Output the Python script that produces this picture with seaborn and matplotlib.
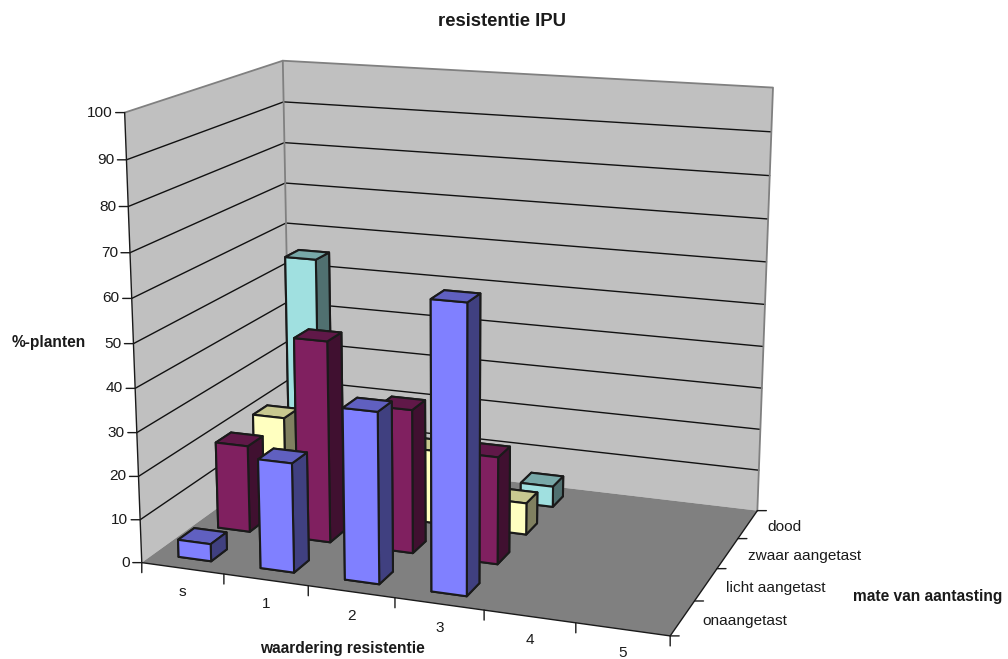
import numpy as np, pandas as pd, matplotlib
matplotlib.use('Agg')
import matplotlib.pyplot as plt
import seaborn as sns
from mpl_toolkits.mplot3d import proj3d
from mpl_toolkits.mplot3d.art3d import Poly3DCollection

categories = ['s', '1', '2', '3', '4', '5']
series = ['onaangetast', 'licht aangetast', 'zwaar aangetast', 'dood']
onaangetast = [4, 25, 38.7, 64.2, 0, 0]
licht = [20.5, 47, 33.3, 24.7, 0, 0]
zwaar = [21.3, 0, 17.5, 7.5, 0, 0]
dood = [55, 0, 10, 5, 0, 0]
z_ticks = list(range(0, 101, 10))
title = 'resistentie IPU'
x_title = 'waardering resistentie'
y_title = 'mate van aantasting'
z_title = '%-planten'

df = pd.DataFrame({'categorie': categories * 4,
                   'reeks': [s for s in series for _ in categories],
                   'waarde': onaangetast + licht + zwaar + dood})

sns.set_theme(style='white')
plt.rcParams['font.family'] = ['Liberation Sans', 'DejaVu Sans']
W_, H_ = 1008, 659
fig = plt.figure(figsize=(W_/100, H_/100), dpi=100, facecolor='white')
s_, cx, cy = 4148.90, 459.69, 335.63
w = s_*0.185
ax = fig.add_axes([(cx-w*0.095/0.185)/W_, (cy-w*0.095/0.185)/H_, w/W_, w/H_], projection='3d')
ax.set_xlim(0, 6); ax.set_ylim(0, 4); ax.set_zlim(0, 100)
ax.view_init(14.927, -70.040, -0.046)
ax.set_proj_type('persp', focal_length=0.5408)
ax.set_box_aspect((1, 0.6666, 0.8348))
ax.set_axis_off()
ax.patch.set_alpha(0)
ax.computed_zorder = False

# walls and floor
xm, ym, zm = 6, 4, 100
ax.add_collection3d(Poly3DCollection([[(0,0,0),(0,ym,0),(0,ym,zm),(0,0,zm)]], facecolor='#C0C0C0', edgecolor='none', zorder=1))
ax.add_collection3d(Poly3DCollection([[(0,ym,0),(xm,ym,0),(xm,ym,zm),(0,ym,zm)]], facecolor='#C0C0C0', edgecolor='none', zorder=1))
ax.add_collection3d(Poly3DCollection([[(0,0,0),(xm,0,0),(xm,ym,0),(0,ym,0)]], facecolor='#808080', edgecolor='none', zorder=1))
for z in z_ticks[1:-1]:
    ax.plot([0,0,xm],[0,ym,ym],[z,z,z], color='#111111', lw=1.0, zorder=2)
gray = '#808080'
ax.plot([0,0,xm,xm],[0,ym,ym,ym],[zm,zm,zm,0], color=gray, lw=1.3, zorder=2)
ax.plot([0,0],[ym,ym],[0,zm], color=gray, lw=1.3, zorder=2)
ax.plot([0,0],[0,0],[0,zm], color='k', lw=1.0, zorder=3)
ax.plot([0,xm,xm],[0,0,ym],[0,0,0], color='k', lw=1.0, zorder=3)

# bars
faces = {
 'onaangetast':     ('#8080FF', '#6060C0', '#404080'),
 'licht aangetast': ('#802060', '#601848', '#401030'),
 'zwaar aangetast': ('#FFFFC0', '#C8C890', '#808060'),
 'dood':            ('#A0E0E0', '#78A8A8', '#507070'),
}
bw = 0.4
for j, sname in enumerate(series):
    sub = df[df.reeks == sname]
    for i, v in enumerate(sub.waarde):
        if v <= 0:
            continue
        fr, to, si = faces[sname]
        ax.bar3d(i+0.5-bw/2, j+0.5-bw/2, 0, bw, bw, v,
                 color=[fr, to, fr, fr, si, si], shade=False,
                 edgecolor='k', linewidth=1.5, zorder=10+(3-j)*10+i)

# ticks and labels
M = ax.get_proj()
def p2(x, y, z):
    a, b, _ = proj3d.proj_transform(x, y, z, M)
    return float(a), float(b)
def tick(x, y, z, dx, dy):
    ax.annotate('', xy=p2(x, y, z), xytext=(dx, dy), textcoords='offset pixels', annotation_clip=False,
                arrowprops=dict(arrowstyle='-', color='k', lw=1.0, shrinkA=0, shrinkB=0), zorder=4)
fs = 11.1
for z in z_ticks:
    tick(0, 0, z, -9, 0)
    ax.annotate(str(z), xy=p2(0, 0, z), xytext=(-12, 0), textcoords='offset pixels', ha='right', va='center',
                fontsize=fs, color='k', annotation_clip=False)
for i in range(7):
    tick(i, 0, 0, 0, -10)
for i, c in enumerate(categories):
    ax.annotate(c, xy=p2(i+0.5, 0, 0), xytext=(0, -24), textcoords='offset pixels', ha='center', va='center',
                fontsize=fs, color='k', annotation_clip=False)
for j in range(5):
    tick(xm, j, 0, 9, 0)
for j, c in enumerate(series):
    ax.annotate(c, xy=p2(xm, j+0.5, 0), xytext=(20, -3), textcoords='offset pixels', ha='left', va='center',
                fontsize=fs, color='k', annotation_clip=False)

fig.text(501.5/W_, 1-21/H_, title, ha='center', va='center', fontsize=13.3, fontweight='bold', color='k')
fig.text(49/W_, 1-342/H_, z_title, ha='center', va='center', fontsize=11.2, fontweight='bold', color='k')
fig.text(342/W_, 1-649/H_, x_title, ha='center', va='center', fontsize=11.2, fontweight='bold', color='k')
fig.text(927.5/W_, 1-596/H_, y_title, ha='center', va='center', fontsize=11.2, fontweight='bold', color='k')
fig.savefig('out.png', dpi=100, facecolor='white')
